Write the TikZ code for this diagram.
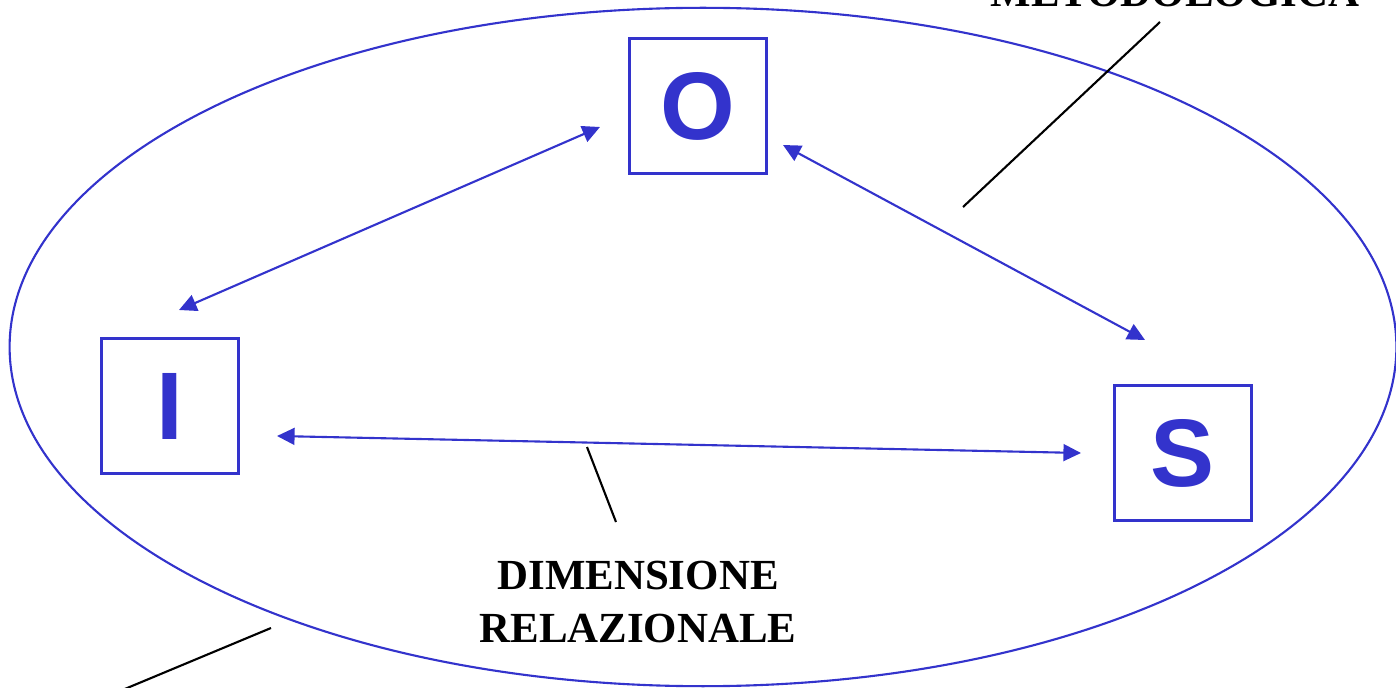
\documentclass[tikz,border=0pt]{standalone}
\usepackage{fontspec}
\setmainfont{Liberation Serif}
\newfontfamily\letterfont{Liberation Sans}
\usetikzlibrary{arrows.meta}
\definecolor{cBlu}{HTML}{3333CC}

\begin{document}
\begin{tikzpicture}[
    x=0.01cm, y=-0.01cm,
    ring/.style={draw=cBlu, line width=0.6pt},
    box/.style={draw=cBlu, line width=0.6pt, minimum width=1.37cm,
                minimum height=1.35cm, inner sep=0pt, text=cBlu,
                font=\letterfont\bfseries\fontsize{27.3}{30}\selectfont},
    rel/.style={{Triangle[length=5pt, width=4.8pt]}-{Triangle[length=5pt, width=4.8pt]},
                line width=0.6pt, cBlu},
    ptr/.style={line width=0.6pt, black},
    dim/.style={font=\bfseries\fontsize{12.2}{14.8}\selectfont, align=center,
                inner sep=0pt},
]
\useasboundingbox (0,0) rectangle (1396,688);

% ===================== Ellisse =====================
\draw[ring] (703,347) ellipse [x radius=6.93cm, y radius=3.39cm];

% ===================== I, O, S =====================
\node[box] (nO) at (698,106) {O};
\node[box] (nI) at (170,406) {I};
\node[box] (nS) at (1183,453) {S};

% ===================== Relazioni =====================
\coordinate (ioI) at (179,310);
\coordinate (ioO) at (600,127);
\coordinate (osO) at (783,145);
\coordinate (osS) at (1145,340);
\coordinate (isI) at (277,436);
\coordinate (isS) at (1081,453);

\draw[rel] (ioI) -- (ioO);
\draw[rel] (osO) -- (osS);
\draw[rel] (isI) -- (isS);

% ===================== Etichette =====================
\node[dim, anchor=base] (metod) at (1175,7) {METODOLOGICA};
\coordinate (mA) at (1160,22);
\coordinate (mB) at (963,207);
\draw[ptr] (mA) -- (mB);

\node[dim] (relaz) at (638,602) {DIMENSIONE\\RELAZIONALE};
\coordinate (rA) at (587,447);
\coordinate (rB) at (616,522);
\draw[ptr] (rA) -- (rB);

\coordinate (bA) at (271,628);
\coordinate (bB) at (120,691);
\draw[ptr] (bA) -- (bB);

\end{tikzpicture}
\end{document}
